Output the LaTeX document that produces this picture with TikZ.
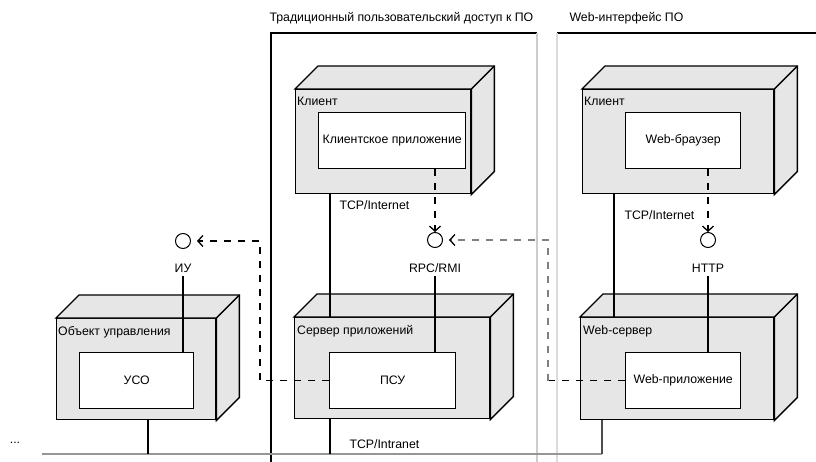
\documentclass[tikz,border=0pt]{standalone}
\usepackage{fontspec}
\setmainfont{Liberation Sans}
\usetikzlibrary{arrows.meta}

\definecolor{boxgray}{RGB}{230,230,230}
\definecolor{lanegray}{RGB}{205,205,205}
\definecolor{busgray}{RGB}{150,150,150}

\newcommand{\lbl}{\fontsize{12.3}{14}\selectfont}
% top and side faces of a device box
\newcommand{\devfaces}[1]{%
  \draw[face] (#1.north west) -- ([shift={(23,-23)}]#1.north west) -- ([shift={(23,-23)}]#1.north east)
    -- ([shift={(23,-23)}]#1.south east) -- (#1.south east) -- (#1.north east) -- cycle;
  \draw[link] (#1.north east) -- ([shift={(23,-23)}]#1.north east);
}

\tikzset{
  front/.style={draw, fill=boxgray, line width=1.4pt, anchor=north west, inner sep=0pt},
  face/.style={draw, fill=boxgray, line width=1.4pt},
  part/.style={draw, fill=white, line width=1.4pt, anchor=north west, inner sep=0pt, font=\lbl},
  devname/.style={anchor=north west, inner sep=1pt, font=\lbl},
  iface/.style={circle, draw, line width=1pt, minimum size=15pt, inner sep=0pt},
  dep/.style={dash pattern=on 7pt off 7pt, line width=1.3pt, -{Straight Barb[length=5pt,width=11pt,color=black]}},
  link/.style={line width=1.4pt},
}

\begin{document}
\begin{tikzpicture}[x=1pt,y=-1pt]
  \useasboundingbox (0,0) rectangle (816,462);

  % swimlanes
  \draw[line width=1.5pt] (271,462) -- (271,33) -- (537,33);
  \draw[line width=1.5pt] (557,33) -- (816,33);
  \draw[lanegray, line width=1.8pt] (537,33) -- (537,462);
  \draw[lanegray!70, line width=2.8pt] (557,33) -- (557,462);
  \node[anchor=west, font=\lbl] (lane1) at (266,18) {Традиционный пользовательский доступ к ПО};
  \node[anchor=west, font=\lbl] (lane2) at (566,18) {Web-интерфейс ПО};

  % devices
  \node[front, minimum width=159pt, minimum height=101pt] (obj) at (56,318) {};
  \devfaces{obj}
  \node[devname] (objname) at (57,325) {Объект управления};

  \node[front, minimum width=175pt, minimum height=104pt] (cl1) at (295,89) {};
  \devfaces{cl1}
  \node[devname] (cl1name) at (296,96) {Клиент};

  \node[front, minimum width=195pt, minimum height=101pt] (srv) at (294,317) {};
  \devfaces{srv}
  \node[devname] (srvname) at (296,324) {Сервер приложений};

  \node[front, minimum width=191pt, minimum height=104pt] (cl2) at (582,89) {};
  \devfaces{cl2}
  \node[devname] (cl2name) at (583,96) {Клиент};

  \node[front, minimum width=193pt, minimum height=102pt] (web) at (580,317) {};
  \devfaces{web}
  \node[devname] (webname) at (582,324) {Web-сервер};

  % components
  \node[part, minimum width=114pt, minimum height=56pt] (uso) at (79,352) {УСО};
  \node[part, minimum width=147pt, minimum height=56pt] (clapp) at (318,112) {Клиентское приложение};
  \node[part, minimum width=126pt, minimum height=56pt] (psu) at (329,352) {ПСУ};
  \node[part, minimum width=115pt, minimum height=56pt] (browser) at (625,112) {Web-браузер};
  \node[part, minimum width=115pt, minimum height=56pt] (webapp) at (625,352) {Web-приложение};

  % interfaces
  \node[iface] (iu) at (183,241) {};
  \node[font=\lbl] (iulab) at (183,268) {ИУ};
  \draw[link] (iulab.south) -- (iulab.south |- uso.north);

  \node[iface] (rpc) at (435,240) {};
  \node[font=\lbl] (rpclab) at (435,268) {RPC/RMI};
  \draw[link] (rpclab.south) -- (rpclab.south |- psu.north);
  \draw[dep] (rpc.north |- clapp.south) -- (rpc.north);

  \node[iface] (http) at (708,240) {};
  \node[font=\lbl] (httplab) at (708,268) {HTTP};
  \draw[link] (httplab.south) -- (httplab.south |- webapp.north);
  \draw[dep] (http.north |- browser.south) -- (http.north);

  % network links
  \coordinate (tcp1) at ([xshift=35pt]cl1.south west);
  \draw[link] (tcp1) -- (tcp1 |- srv.north);
  \node[anchor=west, font=\lbl] (tcp1lab) at (336,205) {TCP/Internet};
  \coordinate (tcp2) at ([xshift=32pt]cl2.south west);
  \draw[link] (tcp2) -- (tcp2 |- web.north);
  \node[anchor=west, font=\lbl] (tcp2lab) at (621,215) {TCP/Internet};

  \coordinate (busL) at (42,454);
  \coordinate (busR) at (602,454);
  \draw[busgray, line width=2.5pt] (busL) -- (busR);
  \coordinate (objdrop) at ([xshift=92pt]obj.south west);
  \draw[link] (objdrop) -- (objdrop |- busL);
  \coordinate (srvdrop) at ([xshift=36pt]srv.south west);
  \draw[link] (srvdrop) -- (srvdrop |- busL);
  \draw[link, black!70] (web.south west -| busR) -- (busR);
  \node[font=\lbl] (dots) at (15,443) {...};
  \node[anchor=west, font=\lbl] (tcp3lab) at (346,444) {TCP/Intranet};

  % dependencies
  \coordinate (iubend) at (260,241);
  \draw[dep] (psu.west) -| (iubend) -- ([xshift=6pt]iu.east);
  \coordinate (rpcbend) at (548,240);
  \draw[dep, -] (webapp.west) -- (webapp.west -| rpcbend);
  \draw[dep, gray] (webapp.west -| rpcbend) -- (rpcbend) -- ([xshift=6pt]rpc.east);
\end{tikzpicture}
\end{document}
